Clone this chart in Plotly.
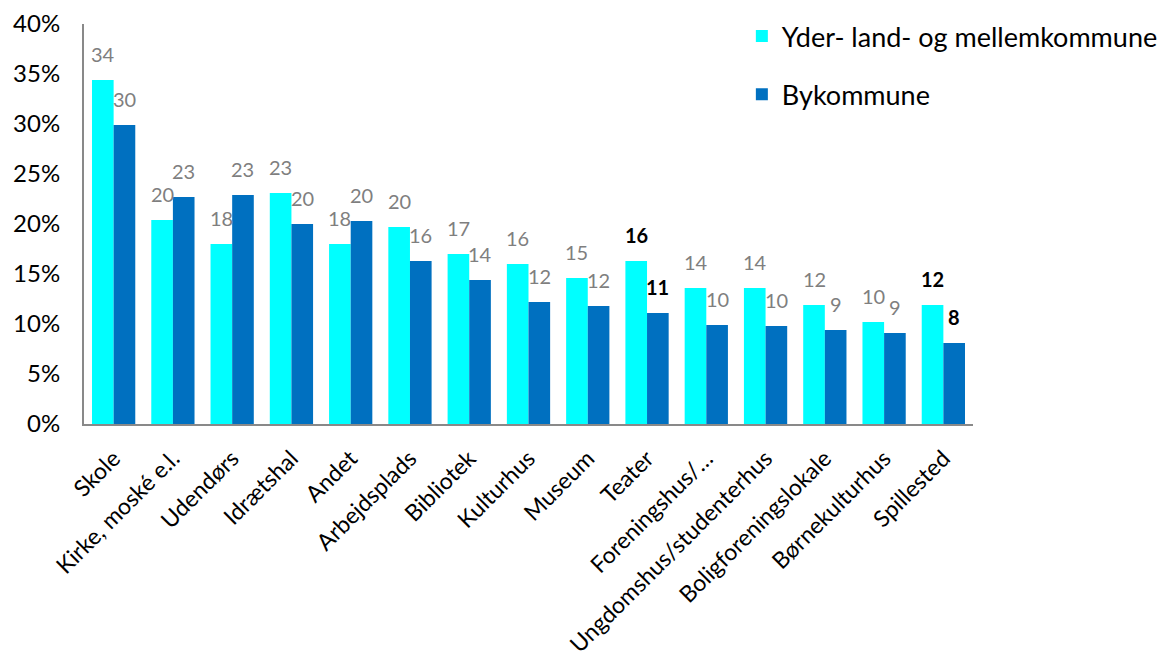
import plotly.graph_objects as go

categories = ["Skole", "Kirke, moské e.l.", "Udendørs", "Idrætshal", "Andet", "Arbejdsplads",
              "Bibliotek", "Kulturhus", "Museum", "Teater", "Foreningshus/…",
              "Ungdomshus/studenterhus", "Boligforeningslokale", "Børnekulturhus", "Spillested"]
yder = [34.4, 20.4, 18.0, 23.1, 18.0, 19.7, 17.0, 16.0, 14.6, 16.3, 13.6, 13.6, 11.9, 10.2, 11.9]
by = [29.9, 22.7, 22.9, 20.0, 20.3, 16.3, 14.4, 12.2, 11.8, 11.1, 9.9, 9.8, 9.4, 9.1, 8.1]
yder_labels = ["34", "20", "18", "23", "18", "20", "17", "16", "15", "16", "14", "14", "12", "10", "12"]
by_labels = ["30", "23", "23", "20", "20", "16", "14", "12", "12", "11", "10", "10", "9", "9", "8"]
bold_cats = ["Teater", "Spillested"]

series_names = ["Yder- land- og mellemkommune", "Bykommune"]
colors = ["#00FFFF", "#0070C0"]

FONT = "Lato, 'Open Sans', sans-serif"

fig = go.Figure()
for name, vals, col, grp in zip(series_names, [yder, by], colors, ["a", "b"]):
    fig.add_trace(go.Bar(
        x=categories, y=[v / 100 for v in vals], name=name,
        marker=dict(color=col, line=dict(width=0)),
        legendgroup=grp, hoverinfo="skip",
    ))

half = 10.8
for vals, labs, sh in [(yder, yder_labels, -half), (by, by_labels, half)]:
    for c, v, t in zip(categories, vals, labs):
        bold = c in bold_cats
        fig.add_annotation(
            x=c, y=v / 100, xref="x", yref="y", text=f"<b>{t}</b>" if bold else t,
            showarrow=False, xshift=sh, yshift=12, yanchor="bottom",
            font=dict(family=FONT, size=20, color="#000000" if bold else "#7F7F7F"),
        )

fig.update_layout(
    width=1169, height=665,
    margin=dict(l=76, r=204, t=16, b=249, autoexpand=False),
    paper_bgcolor="white", plot_bgcolor="white",
    barmode="group", bargap=0.27, bargroupgap=0,
    font=dict(family=FONT, color="#000000"),
    showlegend=True,
    legend=dict(x=0.740, y=1.03, xanchor="left", yanchor="top",
                font=dict(family=FONT, size=27, color="#000000"),
                tracegroupgap=20, bgcolor="rgba(0,0,0,0)", itemsizing="constant"),
    xaxis=dict(showline=True, linecolor="#898989", linewidth=2, showgrid=False,
               ticks="", tickangle=-45, ticklabelstandoff=10,
               tickfont=dict(family=FONT, size=23, color="#000000")),
    yaxis=dict(range=[0, 0.40], dtick=0.05, tickformat=".0%", showline=True,
               linecolor="#898989", linewidth=2, showgrid=False, zeroline=False, ticks="",
               ticklabelstandoff=17,
               tickfont=dict(family=FONT, size=24, color="#000000")),
)

fig.write_html("out.html")
